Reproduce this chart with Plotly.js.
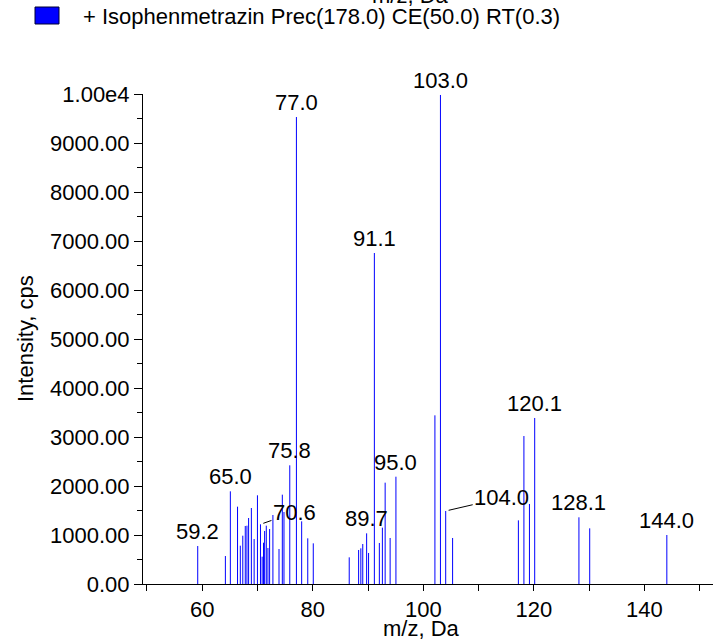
<!DOCTYPE html>
<html>
<head>
<meta charset="utf-8">
<script src="https://cdn.plot.ly/plotly-3.0.1.min.js"></script>
<style>html,body{margin:0;padding:0;background:#fff;}#chart{width:713px;height:641px;}</style>
</head>
<body>
<div id="chart"></div>
<script>
// Peak data (m/z, intensity in cps)
const mz = [59.2, 64.2, 65.1, 66.4, 66.9, 67.35, 67.8, 68.1, 68.4, 68.9, 69.4, 70.0, 70.55, 70.85, 71.1, 71.3, 71.6, 71.9, 72.2, 72.8, 73.9, 74.5, 74.8, 75.85, 77.05, 78.0, 79.1, 80.1,
            86.6, 88.3, 88.7, 89.05, 89.75, 90.1, 91.15, 92.05, 92.6, 93.1, 94.0, 95.05, 102.1, 103.1, 104.05, 105.3,
            117.2, 118.2, 119.2, 120.15, 128.15, 130.1, 144.05];
const intensity = [775, 571, 1891, 1578, 782, 986, 1184, 1190, 1347, 1551, 918, 1810, 1218, 558, 843, 1082, 1190, 735, 1122, 1408, 714, 1823, 1469, 2422, 9530, 1279, 932, 830,
                   544, 694, 728, 816, 1034, 633, 6755, 837, 1150, 2068, 939, 2190, 3442, 9980, 1490, 939,
                   1299, 3020, 1633, 3388, 1361, 1136, 1000];
// Labelled peaks
const labelMz = [59.2, 65.0, 70.6, 75.8, 77.0, 89.7, 91.1, 95.0, 103.0, 104.0, 120.1, 128.1, 144.0];
// Y tick labels
const yTickVals = [0, 1000, 2000, 3000, 4000, 5000, 6000, 7000, 8000, 9000, 10000];
const yTickText = ["0.00", "1000.00", "2000.00", "3000.00", "4000.00", "5000.00", "6000.00", "7000.00", "8000.00", "9000.00", "1.00e4"];
const xTickVals = [50, 60, 70, 80, 90, 100, 110, 120, 130, 140, 150];
const xTickText = ["", "60", "", "80", "", "100", "", "120", "", "140", ""];
const legendText = "+ Isophenmetrazin Prec(178.0) CE(50.0) RT(0.3)";

const FONT = "Liberation Sans, Arial, sans-serif";
const FS = 22;

const xs = [], ys = [];
mz.forEach((m, i) => { xs.push(m, m, null); ys.push(0, intensity[i], null); });

const traces = [{
  type: 'scatter', mode: 'lines', x: xs, y: ys,
  line: {color: '#0000ff', width: 1}, hoverinfo: 'skip', cliponaxis: false
}];

const leader = {"70.6": [34, -12], "104.0": [56, -13]};
const annotations = labelMz.map(l => {
  let best = 0;
  mz.forEach((m, i) => { if (Math.abs(m - l) < Math.abs(mz[best] - l)) best = i; });
  const t = l.toFixed(1);
  const a = {x: mz[best], y: intensity[best], xref: 'x', yref: 'y', text: t,
             font: {family: FONT, size: FS, color: '#000'}};
  if (leader[t]) {
    Object.assign(a, {showarrow: true, ax: leader[t][0], ay: leader[t][1], arrowhead: 0,
                      arrowwidth: 1, arrowcolor: '#000', standoff: 3});
  } else {
    Object.assign(a, {showarrow: false, yanchor: 'bottom'});
  }
  return a;
});
annotations.push({xref: 'paper', yref: 'paper', x: (81 - 143) / 570, y: (584 - 16) / 490,
  xanchor: 'left', yanchor: 'middle', showarrow: false, text: legendText,
  font: {family: FONT, size: FS, color: '#000'}});
annotations.push({xref: 'paper', yref: 'paper', x: (421 - 143) / 570, y: (584 - 628) / 490,
  xanchor: 'center', yanchor: 'middle', showarrow: false, text: 'm/z, Da',
  font: {family: FONT, size: FS, color: '#000'}});
annotations.push({xref: 'paper', yref: 'paper', x: (410 - 143) / 570, y: (584 + 5) / 490,
  xanchor: 'center', yanchor: 'middle', showarrow: false, text: 'm/z, Da',
  font: {family: FONT, size: FS, color: '#000'}});
annotations.push({xref: 'paper', yref: 'paper', x: (25 - 143) / 570, y: (584 - 339) / 490,
  xanchor: 'center', yanchor: 'middle', showarrow: false, text: 'Intensity, cps', textangle: -90,
  font: {family: FONT, size: FS, color: '#000'}});

const layout = {
  width: 713, height: 641,
  margin: {l: 143, r: 0, t: 94, b: 57, pad: 0},
  paper_bgcolor: '#fff', plot_bgcolor: '#fff',
  showlegend: false,
  font: {family: FONT, size: FS, color: '#000'},
  xaxis: {range: [49.3, 152.4], tickmode: 'array', tickvals: xTickVals, ticktext: xTickText,
          ticks: 'outside', ticklen: 6, tickcolor: '#000', showline: true, linecolor: '#000', linewidth: 1,
          showgrid: false, zeroline: false, tickfont: {family: FONT, size: FS}, fixedrange: true},
  yaxis: {range: [0, 10000], tickmode: 'array', tickvals: yTickVals, ticktext: yTickText,
          ticks: 'outside', ticklen: 8, tickcolor: '#000', showline: true, linecolor: '#000', linewidth: 1,
          minor: {tickmode: 'linear', dtick: 500, ticks: 'outside', ticklen: 5, tickcolor: '#000'},
          showgrid: false, zeroline: false, tickfont: {family: FONT, size: FS}, fixedrange: true},
  annotations: annotations,
  shapes: [
    {type: 'rect', xref: 'paper', yref: 'paper', x0: (35 - 143) / 570, x1: (59 - 143) / 570,
     y0: (584 - 24) / 490, y1: (584 - 7) / 490, fillcolor: '#0000ff', line: {color: '#000033', width: 1}},
    {type: 'path', xref: 'x', yref: 'y', xsizemode: 'pixel', ysizemode: 'pixel', xanchor: 49.3, yanchor: 0,
     path: 'M -10,-6 L 0,4 L -10,14 Z', fillcolor: '#0000ff', line: {width: 0}}
  ]
};

Plotly.newPlot('chart', traces, layout, {staticPlot: true, displayModeBar: false});
</script>
</body>
</html>
